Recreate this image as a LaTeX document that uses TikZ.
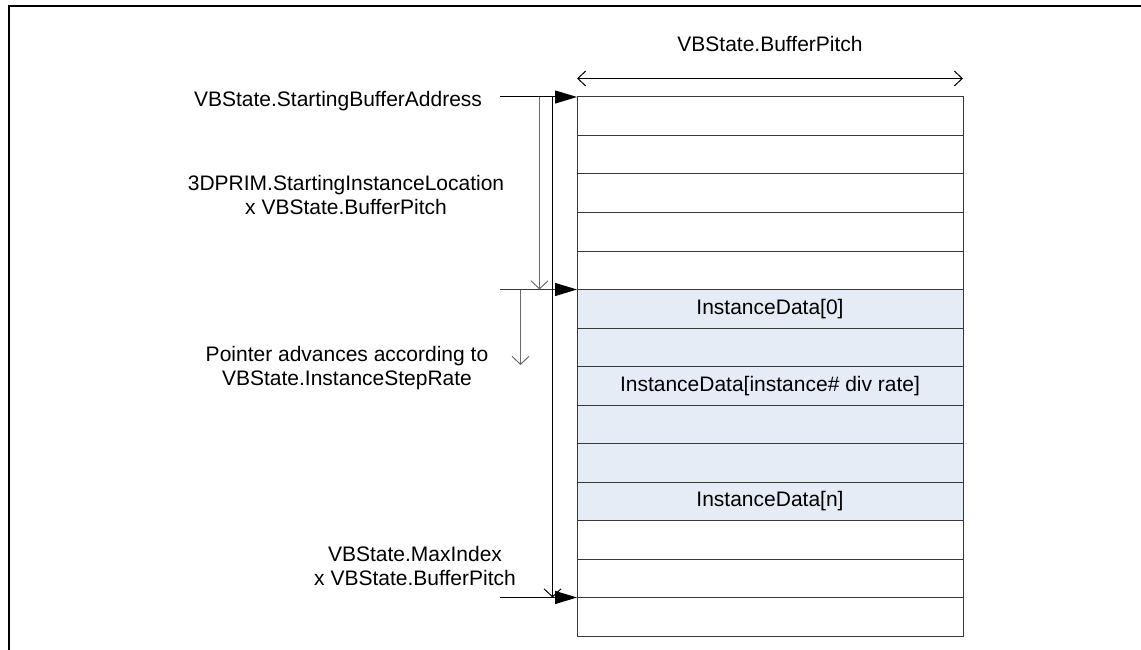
\documentclass[tikz,border=0pt]{standalone}
\usepackage{fontspec}
\setmainfont{Liberation Sans}
\usetikzlibrary{arrows.meta}
\definecolor{rowline}{HTML}{383838}
\definecolor{instfill}{HTML}{E6ECF6}
\definecolor{guide}{HTML}{6A6A6A}
\begin{document}
\begin{tikzpicture}[x=1pt, y=-1pt,
  font=\fontsize{21}{24}\selectfont,
  rowbox/.style={draw=rowline, line width=1pt, minimum width=386pt,
    minimum height=38.5pt, inner sep=0pt, outer sep=0pt, anchor=north west},
  instbox/.style={rowbox, fill=instfill},
  lbl/.style={align=center, inner sep=0pt},
  fat/.style={-{Triangle[length=22pt,width=13pt,color=black]}, line width=1pt},
  thin/.style={-{Straight Barb[length=8pt,width=17pt]}, line width=1pt},
  both/.style={{Straight Barb[length=8pt,width=15pt]}-{Straight Barb[length=8pt,width=15pt]}, line width=1pt}
]
\useasboundingbox (0,0) rectangle (1141,650);

% frame
\draw[line width=2pt] (8.5,650) -- (8.5,6.5) -- (1141,6.5);

% buffer rows
\node[rowbox]  (r1)  at (577,97)    {};
\node[rowbox]  (r2)  at (577,135.5) {};
\node[rowbox]  (r3)  at (577,174)   {};
\node[rowbox]  (r4)  at (577,212.5) {};
\node[rowbox]  (r5)  at (577,251)   {};
\node[instbox] (r6)  at (577,289.5) {InstanceData[0]};
\node[instbox] (r7)  at (577,328)   {};
\node[instbox] (r8)  at (577,366.5) {InstanceData[instance\# div rate]};
\node[instbox] (r9)  at (577,405)   {};
\node[instbox] (r10) at (577,443.5) {};
\node[instbox] (r11) at (577,482)   {InstanceData[n]};
\node[rowbox]  (r12) at (577,520.5) {};
\node[rowbox]  (r13) at (577,559)   {};
\node[rowbox]  (r14) at (577,597.5) {};

% pitch dimension
\node[lbl] (pitch) at (770,44) {VBState.BufferPitch};
\coordinate (pl) at (577,78.5);
\coordinate (pr) at (963,78.5);
\draw[both] (pl) -- (pr);

% labels
\node[lbl, anchor=base] (start) at (338,107) {VBState.StartingBufferAddress};
\node[lbl] (loc) at (346,195) {3DPRIM.StartingInstanceLocation\\x VBState.BufferPitch};
\node[lbl] (step) at (347,368) {Pointer advances according to\\VBState.InstanceStepRate};
\node[lbl] (maxi) at (415,566) {VBState.MaxIndex\\x VBState.BufferPitch};

% pointers into the buffer
\coordinate (sa) at (500,97);
\coordinate (ia) at (500,289.5);
\coordinate (ma) at (500,597.5);
\draw[fat, draw=black] (sa) -- (r1.north west);
\draw[fat, draw=rowline] (ia) -- (r6.north west);
\draw[fat, draw=black] (ma) -- (r14.north west);

% offsets
\coordinate (g1) at (539.5,97);
\coordinate (g2) at (539.5,289.5);
\draw[thin, draw=guide] (g1) -- (g2);
\coordinate (b1) at (552.5,97);
\coordinate (b2) at (552.5,597.5);
\draw[thin, draw=black] (b1) -- (b2);
\coordinate (p1) at (520.5,289.5);
\coordinate (p2) at (520.5,365);
\draw[thin, draw=guide] (p1) -- (p2);
\end{tikzpicture}
\end{document}
